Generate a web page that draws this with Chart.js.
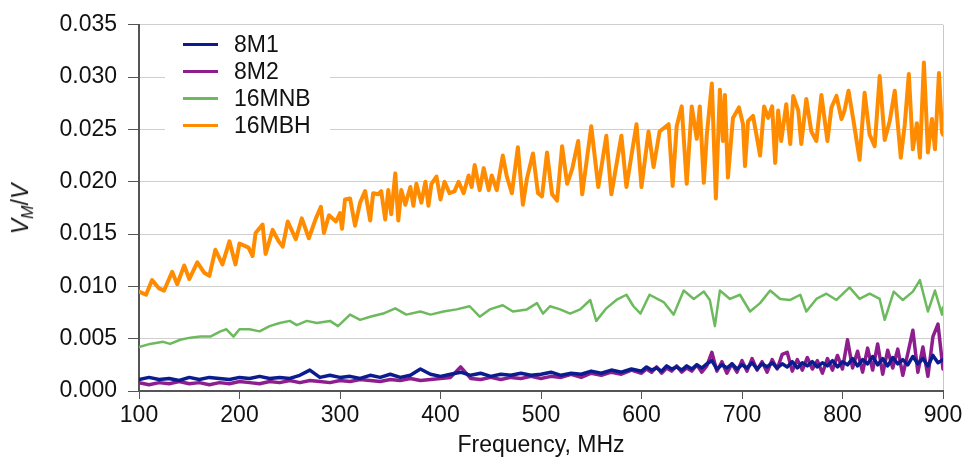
<!DOCTYPE html>
<html>
<head>
<meta charset="utf-8">
<script src="https://cdn.jsdelivr.net/npm/chart.js@4.4.1/dist/chart.umd.min.js"></script>
<style>
  html, body { margin: 0; padding: 0; background: #fff; }
  #wrap { position: relative; width: 966px; height: 463px; }
  #legend {
    position: absolute; left: 165px; top: 31px; width: 165px; height: 106px;
    background: #fff; font-family: 'Liberation Sans', Arial, sans-serif; font-size: 23px; color: #111;
  }
  #legend .row { position: absolute; left: 18px; height: 27px; display: flex; align-items: center; white-space: nowrap; }
  #legend .swatch { width: 35px; height: 3px; margin-right: 16px; }
  #ytitle {
    position: absolute; left: 22px; top: 209px; transform: translate(-50%, -50%) rotate(-90deg);
    font-family: 'Liberation Sans', Arial, sans-serif; font-size: 23px; color: #111; white-space: nowrap;
  }
  #ytitle sub { font-size: 70%; vertical-align: -0.3em; }
</style>
</head>
<body>
<div id="wrap">
  <canvas id="chart" width="966" height="463"></canvas>
  <div id="legend"></div>
  <div id="ytitle"><i>V<sub>M</sub></i>/<i>V</i></div>
</div>
<script>
// series names
const seriesNames = ['8M1', '8M2', '16MNB', '16MBH'];

// 8M1 / 8M2 share one frequency grid (MHz)
const freqM = [100,110,120,130,140,150,160,170,180,190,200,210,220,230,240,250,260,270,280,290,300,
  310,320,330,340,350,360,370,380,390,400,410,420,430,440,450,460,470,480,490,500,
  510,520,530,540,550,560,570,580,590,600,605,610,615,620,625,630,635,640,645,650,655,660,665,670,675,680,685,690,695,700,
  705,710,715,720,725,730,735,740,745,750,755,760,765,770,775,780,785,790,795,800,
  805,810,815,820,825,830,835,840,845,850,855,860,865,870,875,880,885,890,895,900];

const val8M1 = [0.0011,0.0013,0.0011,0.0012,0.0010,0.0013,0.0011,0.0013,0.0012,0.0011,0.0013,
  0.0012,0.0014,0.0012,0.0013,0.0012,0.0015,0.0020,0.0013,0.0015,0.0013,
  0.0014,0.0012,0.0015,0.0013,0.0016,0.0013,0.0015,0.0021,0.0016,0.0014,
  0.0016,0.0018,0.0015,0.0017,0.0014,0.0016,0.0015,0.0017,0.0015,0.0016,
  0.0018,0.0015,0.0017,0.0016,0.0019,0.0017,0.0020,0.0018,0.0021,0.0019,
  0.0023,0.0020,0.0022,0.0019,0.0024,0.0021,0.0023,0.0020,0.0024,0.0021,0.0025,0.0022,0.0026,0.0029,0.0021,0.0025,0.0022,0.0026,0.0021,0.0025,
  0.0022,0.0027,0.0021,0.0026,0.0023,0.0027,0.0022,0.0026,0.0023,0.0028,0.0022,0.0027,0.0024,0.0028,0.0023,0.0027,0.0024,0.0029,0.0023,0.0028,
  0.0025,0.0031,0.0024,0.0030,0.0026,0.0033,0.0025,0.0031,0.0024,0.0032,0.0026,0.0030,0.0025,0.0033,0.0026,0.0031,0.0024,0.0034,0.0027,0.0030];

const val8M2 = [0.0008,0.0006,0.0008,0.0007,0.0009,0.0007,0.0008,0.0006,0.0008,0.0007,0.0009,
  0.0008,0.0007,0.0009,0.0008,0.0010,0.0008,0.0010,0.0009,0.0008,0.0010,
  0.0009,0.0011,0.0010,0.0009,0.0011,0.0010,0.0012,0.0010,0.0011,0.0012,
  0.0013,0.0023,0.0012,0.0011,0.0013,0.0011,0.0013,0.0012,0.0014,0.0012,
  0.0014,0.0013,0.0016,0.0013,0.0017,0.0015,0.0018,0.0016,0.0020,0.0017,
  0.0021,0.0018,0.0023,0.0017,0.0022,0.0019,0.0024,0.0018,0.0022,0.0019,0.0025,0.0018,0.0024,0.0037,0.0019,0.0028,0.0017,0.0026,0.0018,0.0029,
  0.0019,0.0031,0.0020,0.0028,0.0018,0.0030,0.0021,0.0035,0.0037,0.0019,0.0030,0.0020,0.0032,0.0021,0.0029,0.0017,0.0031,0.0020,0.0034,0.0021,
  0.0049,0.0022,0.0038,0.0018,0.0041,0.0020,0.0045,0.0016,0.0039,0.0022,0.0040,0.0015,0.0036,0.0058,0.0018,0.0042,0.0014,0.0052,0.0064,0.0021];

// 16MNB
const freqNB = [100,111,124,131,141,151,161,171,181,187,194,200,210,220,230,240,250,257,267,277,290,298,
  310,320,330,343,355,366,380,390,403,416,429,439,449,462,472,486,496,502,509,519,529,539,549,555,565,575,
  585,592,599,608,622,632,642,652,662,668,673,678,688,698,708,718,728,738,748,758,764,774,784,794,807,817,
  827,837,842,851,860,870,877,885,892,899,900];
const valNB = [0.0042,0.0045,0.0047,0.0045,0.0049,0.0051,0.0052,0.0052,0.0057,0.0059,0.0052,0.0059,0.0059,0.0057,
  0.0062,0.0065,0.0067,0.0063,0.0067,0.0065,0.0067,0.0062,0.0073,0.0068,0.0071,0.0074,0.0079,0.0073,0.0076,0.0073,
  0.0076,0.0078,0.0081,0.0071,0.0078,0.0082,0.0076,0.0078,0.0084,0.0074,0.0081,0.0078,0.0074,0.0078,0.0087,0.0067,
  0.0079,0.0087,0.0092,0.0081,0.0074,0.0092,0.0085,0.0073,0.0096,0.0088,0.0095,0.0087,0.0062,0.0096,0.0088,0.0092,
  0.0076,0.0084,0.0096,0.0088,0.0087,0.0092,0.0076,0.0088,0.0093,0.0087,0.0099,0.0088,0.0093,0.0088,0.0068,0.0095,
  0.0087,0.0095,0.0106,0.0076,0.0096,0.0073,0.0080];

// 16MBH
const freqBH = [100,107,113,120,125,133,138,145,150,158,165,170,176,183,190,196,200,209,213,216,223,226,233,239,243,248,
  256,262,269,276,281,284,289,296,300,302,305,310,315,320,325,330,333,338,341,345,348,351,355,358,361,365,370,373,
  376,381,385,388,391,396,400,404,409,414,418,423,428,431,434,439,443,448,451,456,462,466,471,477,482,486,492,497,
  501,506,511,516,521,526,531,537,541,550,557,565,570,580,585,595,600,607,612,618,627,631,635,640,645,650,655,658,
  662,665,670,674,678,681,683,686,691,697,701,703,706,711,716,718,722,726,730,733,736,739,744,748,751,756,759,764,
  769,774,779,785,789,794,799,802,806,811,817,822,827,832,837,842,847,852,858,862,866,870,874,877,881,885,889,892,
  896,899,900];
const valBH = [0.0095,0.0092,0.0106,0.0098,0.0096,0.0114,0.0102,0.0120,0.0107,0.0123,0.0113,0.0110,0.0135,0.0121,
  0.0143,0.0121,0.0141,0.0137,0.0129,0.0151,0.0159,0.0131,0.0154,0.0143,0.0138,0.0162,0.0145,0.0165,0.0146,0.0165,
  0.0176,0.0151,0.0168,0.0162,0.0170,0.0155,0.0183,0.0184,0.0158,0.0180,0.0191,0.0163,0.0189,0.0188,0.0191,0.0164,
  0.0192,0.0169,0.0208,0.0163,0.0192,0.0178,0.0195,0.0177,0.0198,0.0180,0.0200,0.0177,0.0198,0.0205,0.0183,0.0200,
  0.0189,0.0191,0.0200,0.0189,0.0206,0.0195,0.0216,0.0192,0.0213,0.0192,0.0206,0.0192,0.0225,0.0205,0.0189,0.0233,
  0.0178,0.0203,0.0227,0.0189,0.0186,0.0228,0.0188,0.0182,0.0234,0.0198,0.0212,0.0239,0.0188,0.0253,0.0195,0.0244,
  0.0188,0.0244,0.0195,0.0255,0.0195,0.0248,0.0214,0.0248,0.0255,0.0196,0.0253,0.0272,0.0198,0.0272,0.0241,0.0272,
  0.0199,0.0245,0.0294,0.0184,0.0288,0.0239,0.0283,0.0204,0.0261,0.0271,0.0255,0.0215,0.0258,0.0263,0.0236,0.0225,
  0.0272,0.0261,0.0272,0.0218,0.0268,0.0239,0.0274,0.0236,0.0282,0.0268,0.0236,0.0279,0.0248,0.0239,0.0283,0.0239,
  0.0271,0.0282,0.0260,0.0268,0.0287,0.0258,0.0221,0.0285,0.0245,0.0234,0.0301,0.0240,0.0258,0.0287,0.0223,0.0255,
  0.0303,0.0231,0.0256,0.0223,0.0314,0.0228,0.0260,0.0231,0.0304,0.0247,0.0245];

const yTicks = [0, 0.005, 0.010, 0.015, 0.020, 0.025, 0.030, 0.035];

const colors = ['#0B1D8E', '#8E1E8E', '#6DBA5E', '#FF8C00'];
const widths = [3.5, 3.5, 2.5, 4];

function pairs(xs, ys) {
  return xs.map((x, i) => ({ x: x, y: ys[i] }));
}

const fontFam = "'Liberation Sans', Arial, sans-serif";
const axisGray = '#555';

const ctx = document.getElementById('chart').getContext('2d');
const chart = new Chart(ctx, {
  type: 'line',
  data: {
    datasets: [
      { label: seriesNames[0], data: pairs(freqM, val8M1) },
      { label: seriesNames[1], data: pairs(freqM, val8M2) },
      { label: seriesNames[2], data: pairs(freqNB, valNB) },
      { label: seriesNames[3], data: pairs(freqBH, valBH) }
    ].map((d, i) => Object.assign(d, {
      borderColor: colors[i],
      backgroundColor: colors[i],
      borderWidth: widths[i],
      pointRadius: 0,
      tension: 0,
      fill: false,
      borderJoinStyle: 'round',
      borderCapStyle: 'round'
    }))
  },
  options: {
    responsive: false,
    animation: false,
    layout: { padding: { top: 18, right: 23, left: 0, bottom: 0 } },
    plugins: {
      legend: { display: false },
      tooltip: { enabled: false }
    },
    scales: {
      x: {
        type: 'linear',
        min: 100,
        max: 900,
        ticks: { stepSize: 100, font: { family: fontFam, size: 23 }, color: '#111', padding: 3 },
        grid: {
          color: c => (c.tick && c.tick.value === 900 ? '#c8c8c8' : 'rgba(0,0,0,0)'),
          tickColor: axisGray,
          tickLength: 8
        },
        border: { color: axisGray, width: 2 },
        title: { display: true, text: 'Frequency, MHz', font: { family: fontFam, size: 23 }, color: '#111', padding: { top: 1 } },
        afterFit: s => { s.height = 72; }
      },
      y: {
        min: 0,
        max: 0.035,
        afterBuildTicks: s => { s.ticks = yTicks.map(v => ({ value: v })); },
        ticks: { font: { family: fontFam, size: 23 }, color: '#111', padding: 11, callback: v => v.toFixed(3) },
        grid: { color: '#cfcfcf', tickColor: axisGray, tickLength: 11 },
        border: { color: axisGray, width: 2 },
        afterFit: s => { s.width = 139; }
      }
    }
  }
});

// legend built from the chart's datasets
const legendEl = document.getElementById('legend');
chart.data.datasets.forEach((d, i) => {
  const row = document.createElement('div');
  row.className = 'row';
  row.style.top = (13 + i * 27 - 13.5) + 'px';
  const sw = document.createElement('span');
  sw.className = 'swatch';
  sw.style.background = d.borderColor;
  const tx = document.createElement('span');
  tx.textContent = d.label;
  row.appendChild(sw);
  row.appendChild(tx);
  legendEl.appendChild(row);
});
</script>
</body>
</html>
